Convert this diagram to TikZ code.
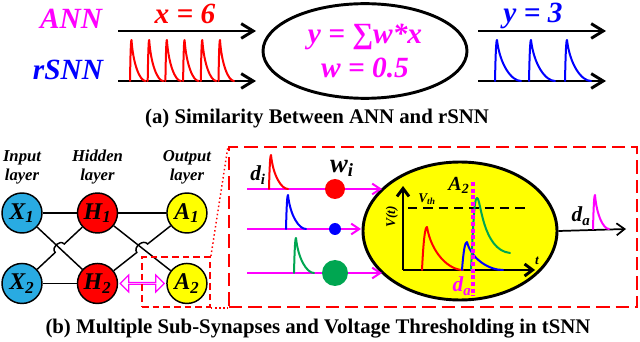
\documentclass[tikz,border=0pt]{standalone}
\usepackage{fontspec}
\setmainfont{Liberation Serif}
\usepackage{xcolor}
\usepackage{tikz}
\usetikzlibrary{arrows.meta,positioning,shapes.geometric,shapes.arrows,calc}

\definecolor{snnmag}{HTML}{FF00FF}
\definecolor{snnblue}{HTML}{0000FF}
\definecolor{snnred}{HTML}{FF0000}
\definecolor{snngreen}{HTML}{00A651}
\definecolor{snncyan}{HTML}{29ABE2}
\definecolor{snnyel}{HTML}{FFFF00}

% spike: style, x, base, height, rise, fall
\newcommand{\spikeshape}[6]{%
  \draw[spk,#1] (#2,#3) .. controls +({0.3*#5},{-0.7*#4}) and +({-0.4*#5},0) .. ++(#5,{-#4})
    .. controls +({0.12*#6},{0.6*#4}) and +({-0.4*#6},0) .. ++(#6,#4);}

\begin{document}
\begin{tikzpicture}[x=0.75pt, y=-0.75pt,
  tlabel/.style={font=\fontsize{22}{25}\selectfont\bfseries\itshape, inner sep=0},
  bigarr/.style={line width=2.2pt, -{Straight Barb[length=9pt,width=11pt]}},
  spk/.style={line width=1.5pt, line cap=round, line join=round},
  neuron/.style={circle, draw, line width=1.1pt, minimum size=30pt, inner sep=0, font=\fontsize{18}{18}\selectfont\bfseries\itshape},
  layer/.style={font=\fontsize{12.5}{14}\selectfont\bfseries\itshape, align=center, inner sep=0},
  edge/.style={line width=1.1pt},
  zoombox/.style={draw=snnred, line width=1.4pt, inner sep=0},
  zoomline/.style={draw=snnred, line width=1.1pt, dotted},
  synarr/.style={draw=snnmag, line width=1.5pt, -{Straight Barb[length=6pt,width=8pt]}},
  wdot/.style={circle, inner sep=0},
  sym/.style={font=\fontsize{16}{16}\selectfont\bfseries\itshape, inner sep=0},
  caption/.style={font=\fontsize{15.6}{17}\selectfont\bfseries, inner sep=0}
]
  \useasboundingbox (0,0) rectangle (640,342);

  % (a) ANN vs rSNN
  \node[tlabel, text=snnmag] (ann) at (71,19) {ANN};
  \node[tlabel, text=snnblue] (rsnn) at (68,70) {rSNN};
  \node[tlabel, text=snnred] (xin) at (185,14) {x = 6};
  \coordinate (ina) at (118,31);  \coordinate (inae) at (256,31);
  \coordinate (inr) at (118,81);  \coordinate (inre) at (256,81);
  \draw[bigarr] (ina) -- (inae);
  \draw[bigarr] (inr) -- (inre);
  \foreach \i in {0,...,5}{
    \spikeshape{snnred}{130+17.7*\i}{81}{41}{1.5}{14}
  }

  \node[ellipse, draw, line width=2.2pt, minimum width=153pt, minimum height=71pt, inner sep=0,
        align=center, text=snnmag, font=\fontsize{22}{25}\selectfont\bfseries\itshape] (neu) at (365,51)
        {y = ∑w*x\\w = 0.5};

  \node[tlabel, text=snnblue] (yout) at (533,16) {y = 3};
  \coordinate (outa) at (478,31);  \coordinate (outae) at (606,31);
  \coordinate (outr) at (478,81);  \coordinate (outre) at (606,81);
  \draw[bigarr] (outa) -- (outae);
  \draw[bigarr] (outr) -- (outre);
  \foreach \x in {495,529,565}{
    \spikeshape{snnblue}{\x}{81}{41}{2}{24}
  }

  \node[caption] (capa) at (317,119) {(a) Similarity Between ANN and rSNN};

  % (b) network
  \node[neuron, fill=snncyan] (X1) at (22,213) {X\textsubscript{1}};
  \node[neuron, fill=snnred, right=25.5pt of X1] (H1) {H\textsubscript{1}};
  \node[neuron, fill=snnyel, right=36pt of H1] (A1) {A\textsubscript{1}};
  \node[neuron, fill=snncyan, below=21.75pt of X1] (X2) {X\textsubscript{2}};
  \node[neuron, fill=snnred, right=25.5pt of X2] (H2) {H\textsubscript{2}};
  \node[neuron, fill=snnyel, right=36pt of H2] (A2) {A\textsubscript{2}};

  \node[layer, above=6pt of X1] (lin) {Input\\layer};
  \node[layer, above=6pt of H1] (lhid) {Hidden\\layer};
  \node[layer, above=6pt of A1] (lout) {Output\\layer};

  \draw[edge] (X1) -- (H1);
  \draw[edge] (H1) -- (A1);
  \draw[edge] (X2) -- (H2);
  \draw[edge] (X1) -- (H2);
  \draw[edge] (H1) -- (A2);
  \coordinate (hpa) at ($(X2)!0.44!(H1)$);
  \coordinate (hpb) at ($(X2)!0.56!(H1)$);
  \draw[edge] (X2) -- (hpa) .. controls ($(hpa)!5pt!90:(hpb)$) and ($(hpb)!5pt!-90:(hpa)$) .. (hpb) -- (H1);
  \coordinate (hqa) at ($(H2)!0.44!(A1)$);
  \coordinate (hqb) at ($(H2)!0.56!(A1)$);
  \draw[edge] (H2) -- (hqa) .. controls ($(hqa)!5pt!90:(hqb)$) and ($(hqb)!5pt!-90:(hqa)$) .. (hqb) -- (A1);

  \node[double arrow, draw=snnmag, line width=0.9pt, minimum height=33pt, minimum width=12.75pt,
        double arrow head extend=3.75pt, inner sep=0] (link) at ($(H2)!0.5!(A2)$) {};

  % zoom boxes
  \node[zoombox, dash pattern=on 5pt off 3pt, minimum width=51pt, minimum height=37.5pt] (zsmall) at (176,282) {};
  \node[zoombox, dash pattern=on 10pt off 4.5pt, minimum width=306pt, minimum height=120pt] (bigbox) at (433,227) {};
  \draw[zoomline] (zsmall.north east) -- (bigbox.north west);
  \draw[zoomline] (zsmall.south east) -- (bigbox.south west);

  % sub-synapses
  \node[ellipse, draw, fill=snnyel, line width=2.2pt, minimum width=145.5pt, minimum height=103.5pt, inner sep=0] (soma) at (460,231) {};

  \coordinate (s1) at (247,189);  \coordinate (s1e) at (382,189);
  \coordinate (s2) at (247,229);  \coordinate (s2e) at (361,229);
  \coordinate (s3) at (247,273);  \coordinate (s3e) at (382,273);
  \draw[synarr] (s1) -- (s1e);
  \draw[synarr] (s2) -- (s2e);
  \draw[synarr] (s3) -- (s3e);
  \spikeshape{snnred}{269}{189}{34}{2}{17}
  \spikeshape{snnblue}{286}{229}{34}{2}{18}
  \spikeshape{snngreen}{294}{273}{35}{2}{18}
  \node[wdot, fill=snnred, minimum size=15pt] (w1) at (335,189) {};
  \node[wdot, fill=snnblue, minimum size=9pt] (w2) at (335,229) {};
  \node[wdot, fill=snngreen, minimum size=19.5pt] (w3) at (335,273) {};
  \node[sym] (di) at (258,175) {d\textsubscript{i}};
  \node[sym, font=\fontsize{20}{20}\selectfont\bfseries\itshape] (wi) at (342,168) {w\textsubscript{i}};

  % membrane potential
  \coordinate (org) at (403,270);
  \coordinate (vtop) at (403,186);
  \coordinate (tend) at (535,270);
  \draw[line width=2.2pt, -{Straight Barb[length=6pt,width=9pt]}] (org) -- (vtop);
  \draw[line width=2.2pt, -{Straight Barb[length=6pt,width=9pt]}] (org) -- (tend);
  \coordinate (th) at (408,208);  \coordinate (the) at (530,208);
  \draw[line width=2.2pt, dash pattern=on 7pt off 4.5pt] (th) -- (the);
  \node[font=\fontsize{10}{10}\selectfont\bfseries\itshape, inner sep=0] (vth) at (427,199) {V\textsubscript{th}};
  \node[font=\fontsize{10}{10}\selectfont\bfseries\itshape, inner sep=0, rotate=90] (vt) at (392,217) {V(t)};
  \node[font=\fontsize{10}{10}\selectfont\bfseries\itshape, inner sep=0] (tl) at (537,261) {t};
  \spikeshape{snnred}{422}{270}{43}{5}{36}
  \spikeshape{snnblue}{462}{270}{28}{5}{36}
  \draw[spk, snngreen] (471,270) .. controls (473,230) and (474,198) .. (477,198)
    .. controls (481,198) and (482,250) .. (510,253);
  \coordinate (dl) at (473,182);  \coordinate (dle) at (473,296);
  \draw[snnmag, line width=2.5pt, dash pattern=on 3pt off 2pt] (dl) -- (dle);
  \node[sym, font=\fontsize{15}{15}\selectfont\bfseries\itshape] (a2l) at (459,185) {A\textsubscript{2}};
  \node[sym, text=snnmag] (dam) at (462,286) {d\textsubscript{a}};

  % output spike
  \coordinate (oute) at (626,229);
  \draw[line width=1.3pt, -{Straight Barb[length=6pt,width=9pt]}] (soma.east) -- (oute);
  \node[sym] (da) at (581,216) {d\textsubscript{a}};
  \spikeshape{snnmag}{593}{229}{34}{2}{14}

  \node[caption] (capb) at (318,329) {(b) Multiple Sub-Synapses and Voltage Thresholding in tSNN};
\end{tikzpicture}
\end{document}
